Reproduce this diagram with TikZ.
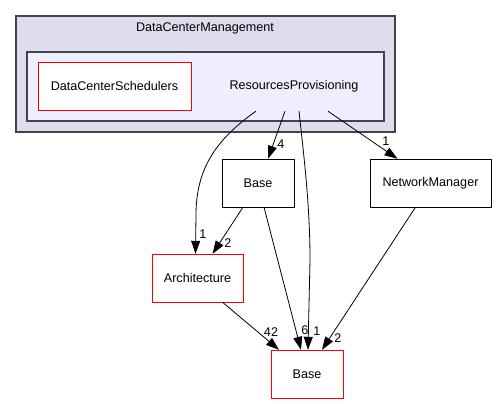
\documentclass[tikz,border=0pt]{standalone}
\usepackage{fontspec}
\setmainfont{Liberation Sans}
\usetikzlibrary{arrows.meta}
\definecolor{outerfill}{HTML}{DDDDEE}
\definecolor{innerfill}{HTML}{EEEEFF}
\definecolor{framegray}{HTML}{444444}
\tikzset{
    dirbox/.style={draw=black, fill=white, minimum width=72pt, minimum height=48pt, inner sep=0pt},
    redbox/.style={dirbox, draw=red},
    dep/.style={-{Triangle[length=13pt,width=9pt]}, line width=0.8pt},
    count/.style={inner sep=0pt}
}
\begin{document}
\begin{tikzpicture}[x=1pt, y=-1pt, font=\fontsize{12.6}{14}\selectfont]

        \useasboundingbox (0,0) rectangle (496,404);

        \draw[framegray, fill=outerfill, line width=1.2pt] (16,16) rectangle (395,132);
        \node at (205,28) {DataCenterManagement};
        \draw[framegray, fill=innerfill, line width=1.2pt] (27,52) rectangle (384,121);

        \node[redbox, minimum width=153pt] (sched) at (114.5,86) {DataCenterSchedulers};
        \node[minimum width=120pt, minimum height=50pt, inner sep=0pt] (rp) at (294,86) {ResourcesProvisioning};

        \node[dirbox] (base1) at (258,183) {Base};
        \node[dirbox, minimum width=121pt] (net) at (430.5,183) {NetworkManager};
        \node[redbox, minimum width=91pt] (arch) at (197.5,278) {Architecture};
        \node[redbox] (base2) at (307,374) {Base};

        \draw[dep] ([xshift=-38pt]rp.south) .. controls (215,140) and (196,170) .. (196,215) -- ([xshift=-2pt]arch.north);
        \node[count] at (203,234) {1};

        \draw[dep] ([xshift=-9pt]rp.south) -- ([xshift=10pt]base1.north);
        \node[count] at (281,144) {4};

        \draw[dep] ([xshift=5pt]rp.south) .. controls (305,165) and (310,210) .. (310,260) -- ([xshift=1pt]base2.north);
        \node[count] at (317,331) {1};

        \draw[dep] ([xshift=34pt]rp.south) -- ([xshift=-33pt]net.north);
        \node[count] at (386,141) {1};

        \draw[dep] ([xshift=-15pt]base1.south) -- ([xshift=15pt]arch.north);
        \node[count] at (228,243) {2};

        \draw[dep] ([xshift=6pt]base1.south) -- ([xshift=-6pt]base2.north);
        \node[count] at (305,330) {6};

        \draw[dep] ([xshift=25pt]arch.south) -- ([xshift=-28pt]base2.north);
        \node[count] at (271,332) {42};

        \draw[dep] ([xshift=-15pt]net.south) -- ([xshift=15pt]base2.north);
        \node[count] at (338,338) {2};

    \end{tikzpicture}
\end{document}
